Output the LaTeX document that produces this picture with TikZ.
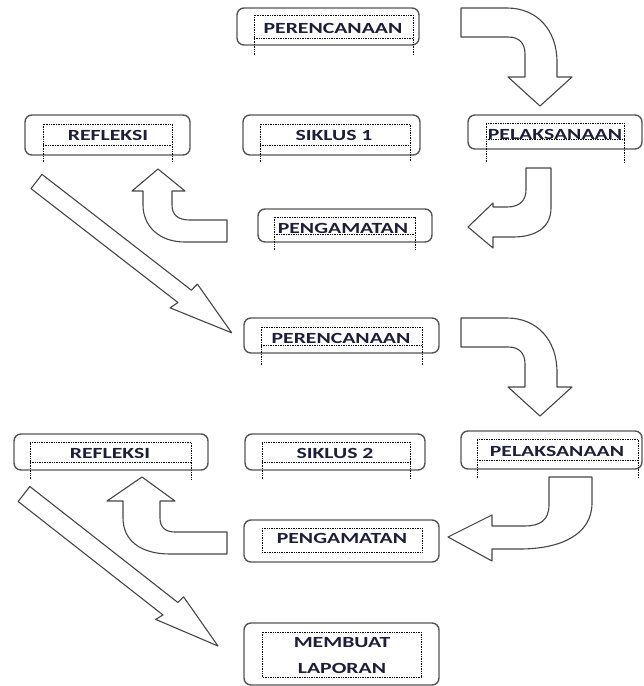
\documentclass[tikz,border=0pt]{standalone}
\usepackage{fontspec}
\setmainfont{Carlito}
\definecolor{txt}{RGB}{28,30,58}
\definecolor{edge}{RGB}{85,85,85}
\definecolor{arrowedge}{RGB}{70,70,70}
\begin{document}
\begin{tikzpicture}[x=1pt,y=-1pt,
 outerbox/.style={draw=edge, line width=1.4pt, rounded corners=7pt, fill=white, inner sep=0pt},
 dotframe/.style={draw=black, line width=0.7pt, dash pattern=on 0.8pt off 0.9pt},
 boxtext/.style={font=\fontsize{15.5}{18}\selectfont\bfseries, text=txt, xscale=1.4, inner sep=0pt},
 blockarrow/.style={draw=arrowedge, line width=1.1pt, fill=white, line join=round}]
\useasboundingbox (0,0) rectangle (644,686);

% ---------- boxes ----------
\node[outerbox, minimum width=182pt, minimum height=37pt] (b1) at (328,26.5) {};
\node[outerbox, minimum width=165pt, minimum height=40pt] (b2) at (107.5,135) {};
\node[outerbox, minimum width=177pt, minimum height=40pt] (b3) at (331.5,135) {};
\node[outerbox, minimum width=174pt, minimum height=34pt] (b4) at (555,132) {};
\node[outerbox, minimum width=174pt, minimum height=33pt] (b5) at (345,225.5) {};
\node[outerbox, minimum width=195pt, minimum height=35pt] (b6) at (341.5,335.5) {};
\node[outerbox, minimum width=194pt, minimum height=36pt] (b7) at (111,452) {};
\node[outerbox, minimum width=180pt, minimum height=36pt] (b8) at (335,452) {};
\node[outerbox, minimum width=181pt, minimum height=38pt] (b9) at (551.5,450) {};
\node[outerbox, minimum width=195pt, minimum height=42pt] (b10) at (341.5,541) {};
\node[outerbox, minimum width=195pt, minimum height=62pt] (b11) at (341.5,654) {};

% ---------- dotted text frames ----------
\draw[dotframe] (254,55) -- (254,15) -- (413,15) -- (413,55) (254,38) -- (413,38);
\draw[dotframe] (43,162) -- (43,124) -- (172,124) -- (172,162) (43,145) -- (172,145);
\draw[dotframe] (260,162) -- (260,124) -- (410,124) -- (410,162) (260,145) -- (410,145);
\draw[dotframe] (486,162) -- (486,123) -- (624,123) -- (624,162) (486,139) -- (624,139);
\draw[dotframe] (274,250) -- (274,217) -- (415,217) -- (415,250) (274,234) -- (415,234);
\draw[dotframe] (261,365) -- (261,327) -- (422,327) -- (422,365) (261,345) -- (422,345);
\draw[dotframe] (30,479) -- (30,442) -- (191,442) -- (191,479) (30,462) -- (191,462);
\draw[dotframe] (262,479) -- (262,442) -- (410,442) -- (410,479) (262,462) -- (410,462);
\draw[dotframe] (477,478) -- (477,439) -- (638,439) -- (638,478) (477,460) -- (638,460);
\draw[dotframe] (262,528) rectangle (422,552);
\draw[dotframe] (262,632) rectangle (421,677);

% ---------- texts ----------
\node[boxtext] (t1) at (333,28) {PERENCANAAN};
\node[boxtext] (t2) at (108,135.5) {REFLEKSI};
\node[boxtext] (t3) at (334,135) {SIKLUS 1};
\node[boxtext] (t4) at (555,134) {PELAKSANAAN};
\node[boxtext] (t5) at (343,228) {PENGAMATAN};
\node[boxtext] (t6) at (341,338) {PERENCANAAN};
\node[boxtext] (t7) at (110,453) {REFLEKSI};
\node[boxtext] (t8) at (335,453) {SIKLUS 2};
\node[boxtext] (t9) at (557,451) {PELAKSANAAN};
\node[boxtext] (t10) at (342,538.5) {PENGAMATAN};
\node[boxtext] (t11a) at (342,643) {MEMBUAT};
\node[boxtext] (t11b) at (342,668) {LAPORAN};

% ---------- curved block arrows (right side, downwards) ----------
\draw[blockarrow] (461,8) -- (507,8) .. controls (537,8) and (557,30) .. (557,62)
  -- (557,77) -- (572,77) -- (540,106) -- (508,77) -- (525,77) -- (525,54)
  .. controls (525,43) and (519,37) .. (508,37) -- (461,37) -- cycle;
\begin{scope}[shift={(0,310)}]
\draw[blockarrow] (461,8) -- (507,8) .. controls (537,8) and (557,30) .. (557,62)
  -- (557,77) -- (572,77) -- (540,106) -- (508,77) -- (525,77) -- (525,54)
  .. controls (525,43) and (519,37) .. (508,37) -- (461,37) -- cycle;
\end{scope}

% ---------- curved block arrows (down-left) ----------
\draw[blockarrow] (526,168) -- (551,168) -- (551,208) .. controls (551,228) and (535,237) .. (513,237)
  -- (493,237) -- (493,248) -- (468,227) -- (493,203) -- (493,207) -- (507,207)
  .. controls (520,207) and (526,200) .. (526,190) -- cycle;
\draw[blockarrow] (549,477) -- (592,477) -- (592,503) .. controls (592,535) and (560,549) .. (520,549)
  -- (492,549) -- (492,561) -- (448,537) -- (492,515) -- (492,526) -- (525,526)
  .. controls (540,526) and (549,520) .. (549,505) -- cycle;

% ---------- curved block arrows (up) ----------
\draw[blockarrow] (158,169) -- (185,191) -- (172,191) -- (172,205) .. controls (172,215) and (178,220) .. (190,220)
  -- (227,220) -- (227,242) -- (185,242) .. controls (158,242) and (143,225) .. (143,205)
  -- (143,191) -- (132,191) -- cycle;
\draw[blockarrow] (142,477) -- (175,501) -- (160,501) -- (160,518) .. controls (160,527) and (165,532) .. (175,532)
  -- (227,532) -- (227,554) -- (170,554) .. controls (140,554) and (123,540) .. (123,518)
  -- (123,501) -- (107,501) -- cycle;

% ---------- diagonal block arrows ----------
\begin{scope}[shift={(36.5,181.5)}, rotate=-37.78]
\draw[blockarrow] (0,-9) -- (189,-9) -- (190,-17.5) -- (247,0) -- (183,18) -- (186,9) -- (0,9) -- cycle;
\end{scope}
\begin{scope}[shift={(24,494)}, rotate=-38.08]
\draw[blockarrow] (0,-9.5) -- (188,-9.5) -- (189,-17.5) -- (246.5,0) -- (181,17.5) -- (184,9.5) -- (0,9.5) -- cycle;
\end{scope}
\end{tikzpicture}
\end{document}
